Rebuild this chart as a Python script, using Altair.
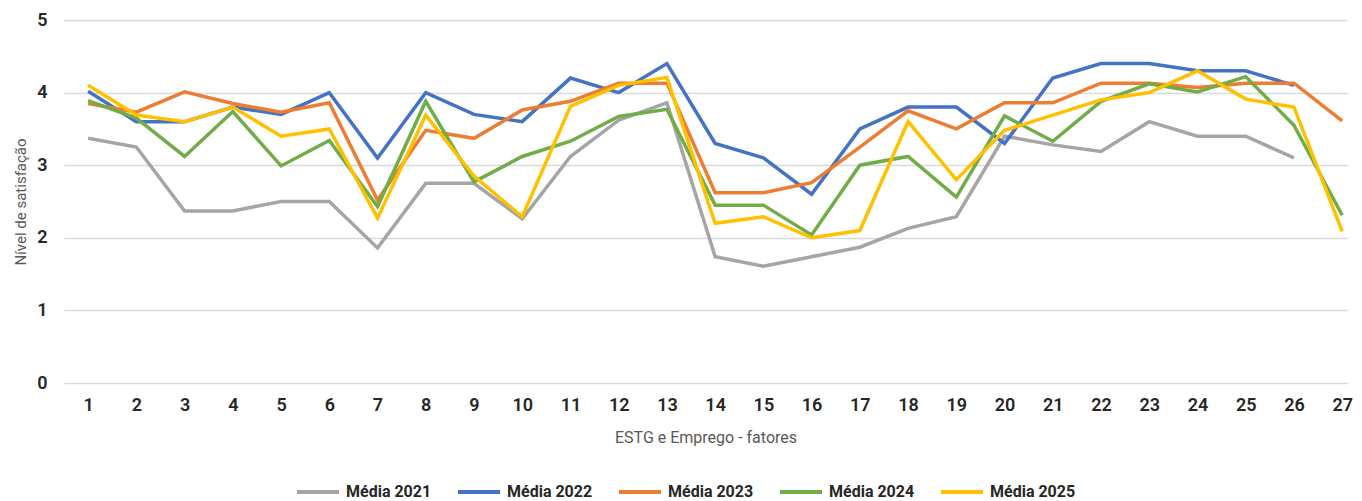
import altair as alt
import pandas as pd

fatores = list(range(1, 28))
series_names = ["Média 2021", "Média 2022", "Média 2023", "Média 2024", "Média 2025"]
m2021 = [3.37, 3.25, 2.37, 2.37, 2.5, 2.5, 1.86, 2.75, 2.75, 2.26, 3.12, 3.62, 3.86, 1.74, 1.61, 1.74, 1.87, 2.13, 2.29, 3.40, 3.28, 3.19, 3.60, 3.40, 3.40, 3.10, None]
m2022 = [4.02, 3.6, 3.6, 3.8, 3.7, 4.0, 3.1, 4.0, 3.7, 3.6, 4.2, 4.0, 4.4, 3.3, 3.1, 2.6, 3.5, 3.8, 3.8, 3.3, 4.2, 4.4, 4.4, 4.3, 4.3, 4.1, None]
m2023 = [3.85, 3.73, 4.01, 3.85, 3.73, 3.86, 2.52, 3.48, 3.37, 3.76, 3.88, 4.13, 4.13, 2.62, 2.62, 2.76, 3.25, 3.75, 3.5, 3.86, 3.86, 4.13, 4.13, 4.07, 4.13, 4.13, 3.61]
m2024 = [3.89, 3.65, 3.12, 3.74, 2.99, 3.34, 2.43, 3.88, 2.77, 3.12, 3.33, 3.67, 3.77, 2.45, 2.45, 2.04, 3.0, 3.12, 2.56, 3.68, 3.33, 3.88, 4.12, 4.01, 4.22, 3.55, 2.31]
m2025 = [4.1, 3.69, 3.6, 3.8, 3.4, 3.5, 2.27, 3.69, 2.85, 2.29, 3.81, 4.1, 4.21, 2.2, 2.29, 2.0, 2.1, 3.6, 2.8, 3.48, 3.69, 3.9, 4.0, 4.3, 3.91, 3.8, 2.09]
colors = ["#a5a5a5", "#4472c4", "#ed7d31", "#70ad47", "#ffc000"]

rows = []
for name, vals in zip(series_names, [m2021, m2022, m2023, m2024, m2025]):
    for f, v in zip(fatores, vals):
        if v is not None:
            rows.append({"fator": f, "valor": v, "serie": name})
df = pd.DataFrame(rows)

FONT = "Roboto"

chart = alt.Chart(df).mark_line(strokeWidth=3.5).encode(
    x=alt.X("fator:Q",
            scale=alt.Scale(domain=[0.5, 27.1], nice=False, zero=False),
            axis=alt.Axis(values=fatores, format="d", grid=False, domain=False, ticks=False,
                          labelFontSize=18, labelFontWeight=600, labelColor="#262626",
                          labelPadding=13, labelFont=FONT,
                          title="ESTG e Emprego - fatores", titleFontSize=16,
                          titleFontWeight="normal", titleColor="#595959", titleFont=FONT,
                          titlePadding=15)),
    y=alt.Y("valor:Q",
            scale=alt.Scale(domain=[0, 5], nice=False),
            axis=alt.Axis(values=[0, 1, 2, 3, 4, 5], grid=True, gridColor="#d9d9d9",
                          gridWidth=1.5, domain=False, ticks=False,
                          labelFontSize=18, labelFontWeight=600, labelColor="#262626",
                          labelPadding=17, labelFont=FONT,
                          title="Nível de satisfação", titleFontSize=15,
                          titleFontWeight="normal", titleColor="#595959", titleFont=FONT,
                          titlePadding=8)),
    color=alt.Color("serie:N",
                    scale=alt.Scale(domain=series_names, range=colors),
                    legend=alt.Legend(title=None, orient="none", legendX=231, legendY=449,
                                      direction="horizontal", symbolType="stroke",
                                      symbolSize=1764, symbolStrokeWidth=4,
                                      labelFontSize=16, labelFontWeight="bold",
                                      labelColor="#262626", labelFont=FONT,
                                      columnPadding=18, labelOffset=5)),
    detail="serie:N",
).properties(
    width=1283,
    height=363,
    padding={"left": 5, "top": 3, "right": 1, "bottom": 0},
).configure_view(stroke=None)

chart.save("out.html", embed_options={"renderer": "svg", "actions": False})
